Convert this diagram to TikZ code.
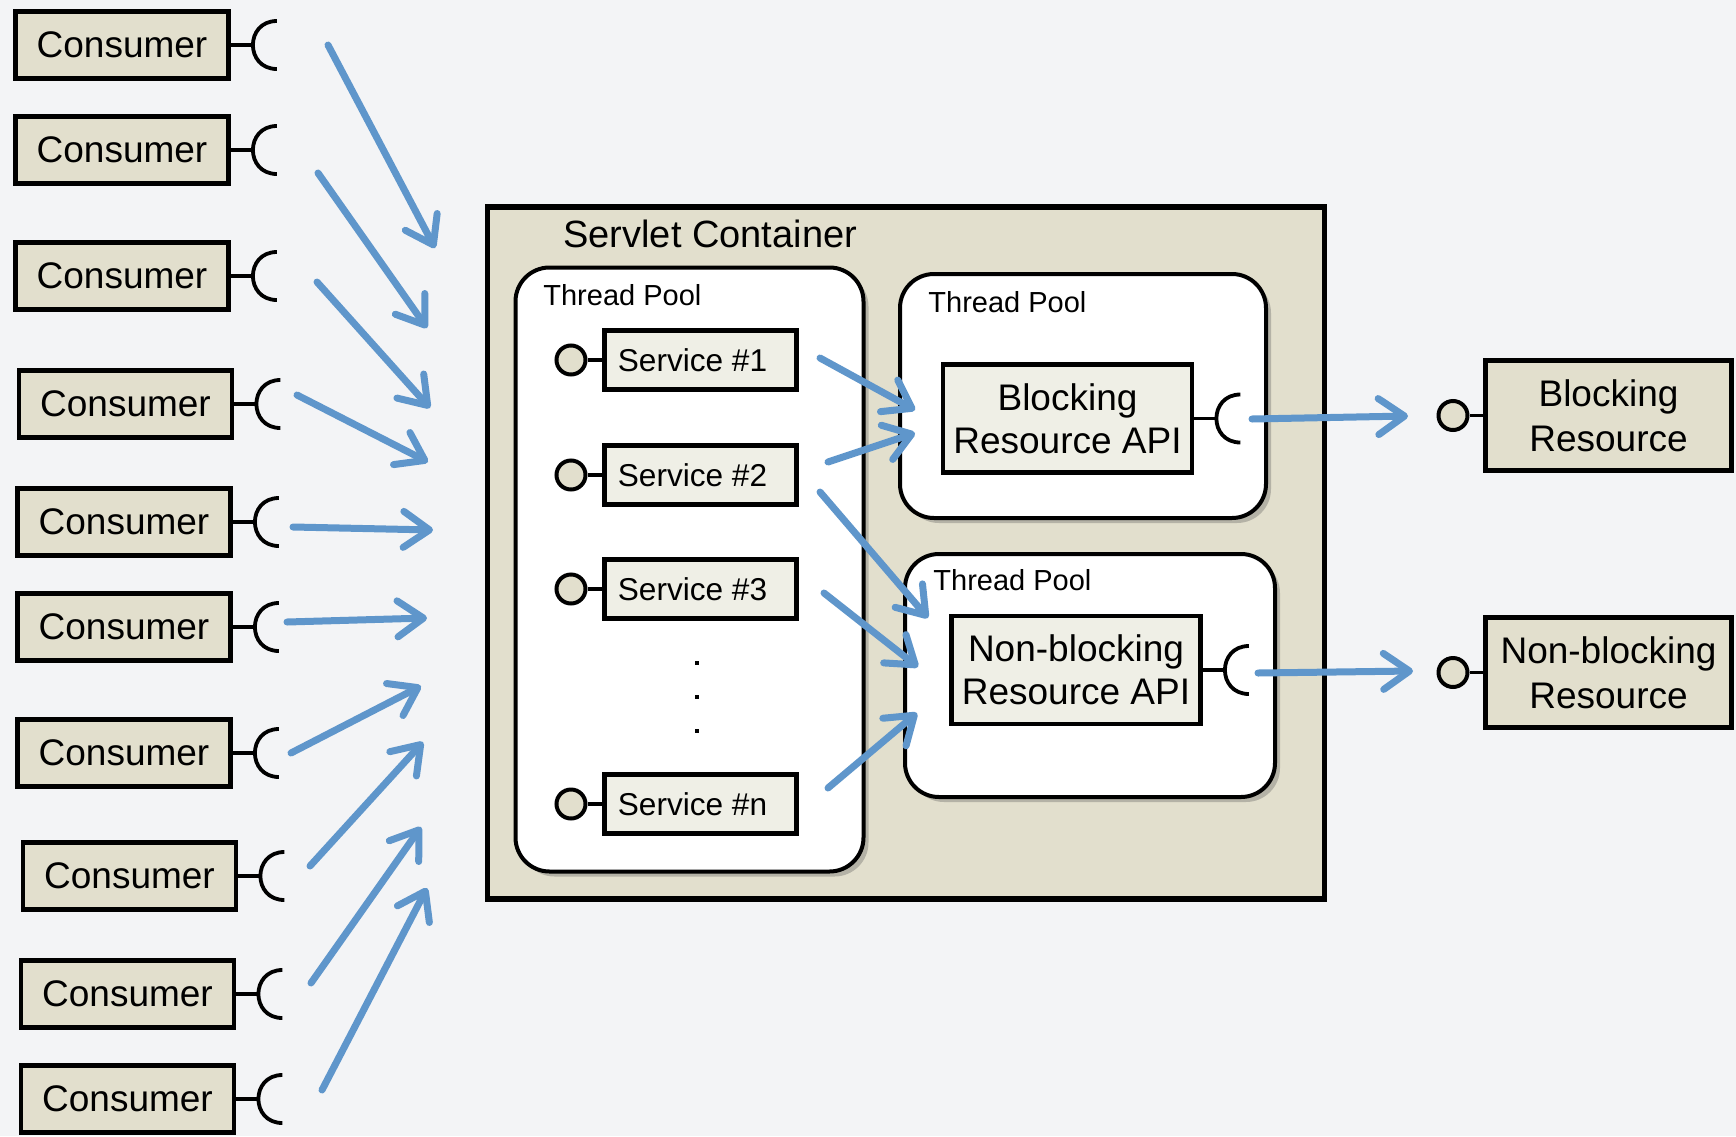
\documentclass[tikz,border=0pt]{standalone}
\usepackage{fontspec}
\setmainfont{Liberation Sans}
\usetikzlibrary{arrows.meta,shadows,calc}
\definecolor{bgc}{RGB}{243,244,246}
\definecolor{beige}{RGB}{226,223,205}
\definecolor{lightbox}{RGB}{239,239,230}
\definecolor{arrowblue}{RGB}{95,150,203}
\tikzset{
  consumer/.style={draw=black, line width=2.4pt, fill=beige, minimum width=106.5pt, minimum height=33.5pt, inner sep=0pt, font=\fontsize{18.5}{22}\selectfont},
  service/.style={draw=black, line width=2.3pt, fill=lightbox, minimum width=96pt, minimum height=29.5pt, inner sep=0pt, font=\fontsize{15.8}{19}\selectfont},
  api/.style={draw=black, line width=2.4pt, fill=lightbox, minimum width=124.5pt, minimum height=54pt, inner sep=0pt, align=center, font=\fontsize{18.5}{21.5}\selectfont},
  resource/.style={draw=black, line width=2.4pt, fill=beige, minimum width=123pt, minimum height=55pt, inner sep=0pt, align=center, font=\fontsize{18.5}{22.5}\selectfont},
  pool/.style={draw=black, line width=2pt, fill=white, rounded corners=17pt, inner sep=0pt, drop shadow={shadow xshift=2.5pt, shadow yshift=-2.5pt, opacity=0.3, fill=black!70}},
  container/.style={draw=black, line width=2.6pt, fill=beige, inner sep=0pt},
  lolli/.style={circle, draw=black, line width=2pt, fill=beige, minimum size=14.5pt, inner sep=0pt},
  flow/.style={draw=arrowblue, line width=3.5pt, line cap=round, -{Straight Barb[length=13pt, width=18pt, round]}},
  wire/.style={draw=black, line width=1.9pt},
  label/.style={inner sep=0pt, anchor=base west},
}
\newcommand\mysocket[1]{%
  \draw[wire] (#1.east) -- ++(22,0);
  \draw[wire] ($(#1.east)+(46,-24)$) .. controls +(-32,0) and +(-32,0) .. ($(#1.east)+(46,24)$);
}
\begin{document}
\begin{tikzpicture}[x=0.5pt, y=-0.5pt]
\useasboundingbox (0,0) rectangle (1736,1136);
\clip (0,0) rectangle (1736,1136);
\fill[bgc] (0,0) rectangle (1736,1136);

% consumers
\node[consumer] (c1) at (122,45) {Consumer};
\node[consumer] (c2) at (122,150) {Consumer};
\node[consumer] (c3) at (122,276) {Consumer};
\node[consumer] (c4) at (125.5,404) {Consumer};
\node[consumer] (c5) at (124,522) {Consumer};
\node[consumer] (c6) at (124,627) {Consumer};
\node[consumer] (c7) at (124,753) {Consumer};
\node[consumer] (c8) at (129.5,876) {Consumer};
\node[consumer] (c9) at (127.5,994) {Consumer};
\node[consumer] (c10) at (127.5,1099) {Consumer};
\foreach \n in {c1,c2,c3,c4,c5,c6,c7,c8,c9,c10} {\mysocket{\n}}

% consumer arrows
\coordinate (a1s) at (328,45);  \coordinate (a1e) at (435,248);
\coordinate (a2s) at (318,173); \coordinate (a2e) at (427,328);
\coordinate (a3s) at (317,282); \coordinate (a3e) at (430,408);
\coordinate (a4s) at (297,395); \coordinate (a4e) at (428,462);
\coordinate (a5s) at (293,527); \coordinate (a5e) at (433,530);
\coordinate (a6s) at (287,622); \coordinate (a6e) at (427,618);
\coordinate (a7s) at (291,753); \coordinate (a7e) at (421,686);
\coordinate (a8s) at (310,866); \coordinate (a8e) at (423,742);
\coordinate (a9s) at (311,983); \coordinate (a9e) at (421,827);
\coordinate (a10s) at (322,1090); \coordinate (a10e) at (427,888);
\foreach \i in {1,...,10} {\draw[flow] (a\i s) -- (a\i e);}

% container
\node[container, minimum width=418.5pt, minimum height=346pt] (cont) at (906,553) {};
\node[label, font=\fontsize{19}{23}\selectfont] (contlbl) at (563,247) {Servlet Container};

% thread pools
\node[pool, minimum width=174pt, minimum height=302pt] (tp1) at (689.5,569.5) {};
\node[pool, minimum width=183pt, minimum height=122pt] (tp2) at (1083,396) {};
\node[pool, minimum width=185pt, minimum height=121.5pt] (tp3) at (1090,675.5) {};
\node[label, font=\fontsize{14.5}{17}\selectfont] (tp1lbl) at (543,305) {Thread Pool};
\node[label, font=\fontsize{14.5}{17}\selectfont] (tp2lbl) at (928,312) {Thread Pool};
\node[label, font=\fontsize{14.5}{17}\selectfont] (tp3lbl) at (933,590) {Thread Pool};

% services
\node[service] (s1) at (700.5,360) {Service \#1\kern8pt};
\node[service] (s2) at (700.5,475) {Service \#2\kern8pt};
\node[service] (s3) at (700.5,589) {Service \#3\kern8pt};
\node[service] (sn) at (700.5,804) {Service \#n\kern8pt};
\node[lolli] (l1) at (571,360) {};
\node[lolli] (l2) at (571,475) {};
\node[lolli] (l3) at (571,589) {};
\node[lolli] (ln) at (571,804) {};
\draw[wire] (l1) -- (s1);
\draw[wire] (l2) -- (s2);
\draw[wire] (l3) -- (s3);
\draw[wire] (ln) -- (sn);
\foreach \yy in {663,697,731} {\fill (695,\yy-2) rectangle (699,\yy+2);}

% APIs
\node[api] (bapi) at (1067.5,418.5) {Blocking\\Resource API};
\node[api] (napi) at (1076,670) {Non-blocking\\Resource API};
\mysocket{bapi}
\mysocket{napi}

% inner arrows
\coordinate (b1s) at (820,358); \coordinate (b1e) at (915,410);
\coordinate (b2s) at (828,462); \coordinate (b2e) at (915,433);
\coordinate (b3s) at (820,492); \coordinate (b3e) at (928,618);
\coordinate (b4s) at (824,593); \coordinate (b4e) at (918,667);
\coordinate (b5s) at (828,788); \coordinate (b5e) at (917,713);
\foreach \i in {1,...,5} {\draw[flow] (b\i s) -- (b\i e);}

% resources
\node[resource] (bres) at (1608.5,415.5) {Blocking\\Resource};
\node[resource] (nres) at (1608.5,672.5) {Non-blocking\\Resource};
\node[lolli] (rl1) at (1453,415.5) {};
\node[lolli] (rl2) at (1453,672.5) {};
\draw[wire] (rl1) -- (bres);
\draw[wire] (rl2) -- (nres);

\coordinate (r1s) at (1252,419); \coordinate (r1e) at (1408,416);
\coordinate (r2s) at (1258,673); \coordinate (r2e) at (1413,671);
\draw[flow] (r1s) -- (r1e);
\draw[flow] (r2s) -- (r2e);
\end{tikzpicture}
\end{document}
